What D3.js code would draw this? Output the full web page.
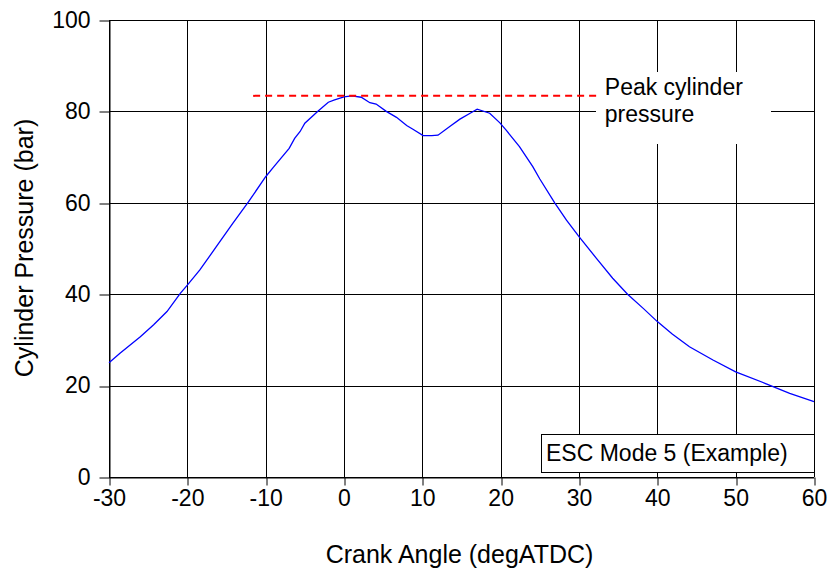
<!DOCTYPE html>
<html>
<head>
<meta charset="utf-8">
<script src="https://cdn.jsdelivr.net/npm/d3@7"></script>
<style>
  body { margin: 0; background: #fff; }
  text { font-family: "Liberation Sans", Arial, sans-serif; fill: #000; }
</style>
</head>
<body>
<div id="chart"></div>
<script>
// readings taken off the trace (crank angle deg, pressure bar)
const angle = [-30, -28.6, -26, -24.3, -22.6, -20.9, -20, -18.4, -16.3, -14.2, -12.2, -10, -9, -7, -6.3, -5.6, -5,
  -3.3, -2, -1.2, 0, 1, 2.2, 3.3, 4.1, 5.4, 6.7, 8, 8.8, 10.1, 11.2, 12, 13.5, 14.8, 16.1, 17, 18.6, 19.9, 20.7,
  22.4, 24.1, 25, 26.9, 28.4, 30, 32.2, 34.3, 36.2, 38.2, 40, 41.9, 44.1, 47.1, 50, 53.9, 56.9, 60];
const pressure = [25.0, 27.1, 30.7, 33.3, 36.2, 40.2, 42.0, 45.3, 50.4, 55.5, 60.2, 65.7, 67.8, 71.9, 74.1, 75.6, 77.4,
  80.1, 82.0, 82.5, 83.2, 83.4, 83.1, 81.9, 81.6, 80.0, 78.7, 76.9, 76.1, 74.7, 74.7, 74.8, 76.7, 78.3, 79.6, 80.5, 79.6, 77.5, 75.9,
  72.3, 67.9, 65.2, 60.0, 56.2, 52.6, 47.9, 43.5, 40.0, 36.9, 34.0, 31.3, 28.5, 25.6, 23.0, 20.4, 18.3, 16.5];

const xTicks = [-30, -20, -10, 0, 10, 20, 30, 40, 50, 60];
const yTicks = [0, 20, 40, 60, 80, 100];
const peakSpan = [-11.6, 32.4];          // extent of the dashed peak line
const peakLabel = ["Peak cylinder", "pressure"];
const modeLabel = "ESC Mode 5 (Example)";

const W = 831, H = 570;
const margin = { top: 20, right: 17, bottom: 93, left: 109 };
const width = W - margin.left - margin.right,
      height = H - margin.top - margin.bottom;

const data = angle.map((a, i) => ({ a: a, p: pressure[i] }));

const svg = d3.select("#chart").append("svg")
    .attr("width", W)
    .attr("height", H);

const g = svg.append("g")
    .attr("transform", "translate(" + margin.left + "," + margin.top + ")");

const x = d3.scaleLinear().domain([-30, 60]).range([0, width]);
const y = d3.scaleLinear().domain([0, 100]).range([height, 0]);

// grid
g.append("g").selectAll("line")
  .data(xTicks)
  .enter().append("line")
    .attr("x1", d => Math.round(x(d)) + 0.5)
    .attr("x2", d => Math.round(x(d)) + 0.5)
    .attr("y1", 0)
    .attr("y2", height)
    .attr("stroke", "#000");

g.append("g").selectAll("line")
  .data(yTicks)
  .enter().append("line")
    .attr("x1", 0)
    .attr("x2", width)
    .attr("y1", d => Math.round(y(d)) + 0.5)
    .attr("y2", d => Math.round(y(d)) + 0.5)
    .attr("stroke", "#000");

// axes
const xAxis = g.append("g")
    .attr("transform", "translate(0," + (Math.round(height) + 0.5) + ")")
    .call(d3.axisBottom(x).tickValues(xTicks).tickFormat(d => String(d))
      .tickSize(8).tickSizeOuter(0).tickPadding(4));
const yAxis = g.append("g")
    .attr("transform", "translate(0.5,0)")
    .call(d3.axisLeft(y).tickValues(yTicks).tickFormat(d => String(d))
      .tickSize(10).tickSizeOuter(0).tickPadding(9));

[xAxis, yAxis].forEach(ax => {
  ax.select(".domain").attr("stroke", "#000");
  ax.selectAll(".tick line").attr("stroke", "#000");
  ax.selectAll("text").style("font-size", "23px").style("font-family", "Liberation Sans, Arial, sans-serif").attr("fill", "#000");
});
xAxis.selectAll(".tick line").attr("transform", d => "translate(" + (Math.round(x(d)) + 0.5 - x(d)) + ",0)");
yAxis.selectAll(".tick line").attr("transform", d => "translate(0," + (Math.round(y(d)) + 0.5 - y(d)) + ")");

// white box behind the annotation
g.append("rect")
    .attr("x", 596 - margin.left)
    .attr("y", 72 - margin.top)
    .attr("width", 175)
    .attr("height", 72)
    .attr("fill", "#fff");

// pressure trace
const line = d3.line()
    .x(d => x(d.a))
    .y(d => y(d.p));

g.append("path")
    .datum(data)
    .attr("fill", "none")
    .attr("stroke", "#0000ff")
    .attr("stroke-width", 1.3)
    .attr("d", line);

// dashed peak line
const peak = d3.max(pressure);
g.append("line")
    .attr("x1", x(peakSpan[0]))
    .attr("x2", x(peakSpan[1]))
    .attr("y1", y(peak))
    .attr("y2", y(peak))
    .attr("stroke", "#ff0000")
    .attr("stroke-width", 2)
    .attr("stroke-dasharray", "7,5");

g.append("text")
    .attr("x", x(peakSpan[1]) + 7)
    .attr("y", 95 - margin.top)
    .style("font-size", "23px")
    .selectAll("tspan")
    .data(peakLabel)
    .enter().append("tspan")
      .attr("x", x(peakSpan[1]) + 7)
      .attr("dy", (d, i) => i === 0 ? 0 : 27)
      .text(d => d);

// mode label box
g.append("rect")
    .attr("x", 541.5 - margin.left)
    .attr("y", 434.5 - margin.top)
    .attr("width", width - (541.5 - margin.left) + 0.5)
    .attr("height", 38)
    .attr("fill", "#fff")
    .attr("stroke", "#000");

g.append("text")
    .attr("x", 546 - margin.left)
    .attr("y", 461 - margin.top)
    .style("font-size", "23px")
    .text(modeLabel);

// axis titles
svg.append("text")
    .attr("x", margin.left + width / 2 - 2)
    .attr("y", 563)
    .attr("text-anchor", "middle")
    .style("font-size", "25px")
    .text("Crank Angle (degATDC)");

svg.append("text")
    .attr("transform", "translate(33,248) rotate(-90)")
    .attr("text-anchor", "middle")
    .style("font-size", "25px")
    .text("Cylinder Pressure (bar)");
</script>
</body>
</html>
